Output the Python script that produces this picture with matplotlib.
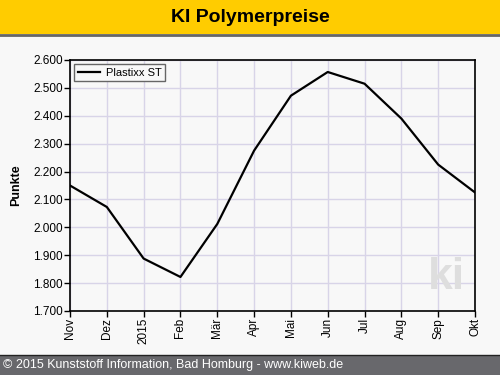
import matplotlib.pyplot as plt
import matplotlib
from matplotlib.patches import Rectangle
from matplotlib.lines import Line2D

matplotlib.rc('font', family='Liberation Sans')

months = ['Nov', 'Dez', '2015', 'Feb', 'Mär', 'Apr', 'Mai', 'Jun', 'Jul', 'Aug', 'Sep', 'Okt']
plastixx_st = [2150, 2073, 1888, 1822, 2012, 2275, 2472, 2557, 2515, 2390, 2225, 2125]
y_ticks = [1700, 1800, 1900, 2000, 2100, 2200, 2300, 2400, 2500, 2600]
y_labels = ['1.700', '1.800', '1.900', '2.000', '2.100', '2.200', '2.300', '2.400', '2.500', '2.600']

fig = plt.figure(figsize=(5, 3.75), dpi=100, facecolor='#f8f8f8')

# header and footer bands
fig.patches.append(Rectangle((0, 1 - 34/375), 1, 34/375, transform=fig.transFigure,
                             facecolor='#ffcc00', edgecolor='none', zorder=0))
fig.lines.append(Line2D([0, 1], [1 - 35/375, 1 - 35/375], transform=fig.transFigure,
                        color='#666666', linewidth=2))
fig.patches.append(Rectangle((0, 0), 1, 20/375, transform=fig.transFigure,
                             facecolor='#68686c', edgecolor='none', zorder=0))
fig.lines.append(Line2D([0, 1], [20/375, 20/375], transform=fig.transFigure,
                        color='#222222', linewidth=1))
fig.text(0.5, 1 - 17/375, 'KI Polymerpreise', ha='center', va='center',
         fontsize=14, fontweight='bold', color='black')
fig.text(0.006, 10/375, '© 2015 Kunststoff Information, Bad Homburg - www.kiweb.de',
         ha='left', va='center', fontsize=9, color='white')

ax = fig.add_axes([70/500, 64/375, 405/500, 251/375])
ax.set_facecolor('#f8f8f8')
x = list(range(len(months)))
ax.plot(x, plastixx_st, color='black', linewidth=1.6, label='Plastixx ST')

ax.set_xlim(0, len(months) - 1)
ax.set_ylim(1700, 2600)
ax.set_xticks(x)
ax.set_xticklabels(months, rotation=90, fontsize=8.5)
ax.set_yticks(y_ticks)
ax.set_yticklabels(y_labels, fontsize=8.5)
ax.tick_params(direction='out', length=4, width=1, pad=1)
ax.grid(True, color='#d8d4e8', linewidth=1)
ax.set_axisbelow(True)
for s in ax.spines.values():
    s.set_linewidth(1.2)
ax.set_ylabel('Punkte', fontsize=9, fontweight='bold', labelpad=8)

ax.text(0.975, 0.05, 'ki', transform=ax.transAxes, ha='right', va='bottom',
        fontsize=32, fontweight='bold', color='#dedede', zorder=1)

leg = ax.legend(loc='upper left', fontsize=8, fancybox=False, framealpha=1,
                edgecolor='#666666', facecolor='#f8f8f8', handlelength=2,
                handletextpad=0.5, borderaxespad=0.4, borderpad=0.3)
leg.get_frame().set_linewidth(1)

fig.savefig('out.png', dpi=100, facecolor=fig.get_facecolor())
